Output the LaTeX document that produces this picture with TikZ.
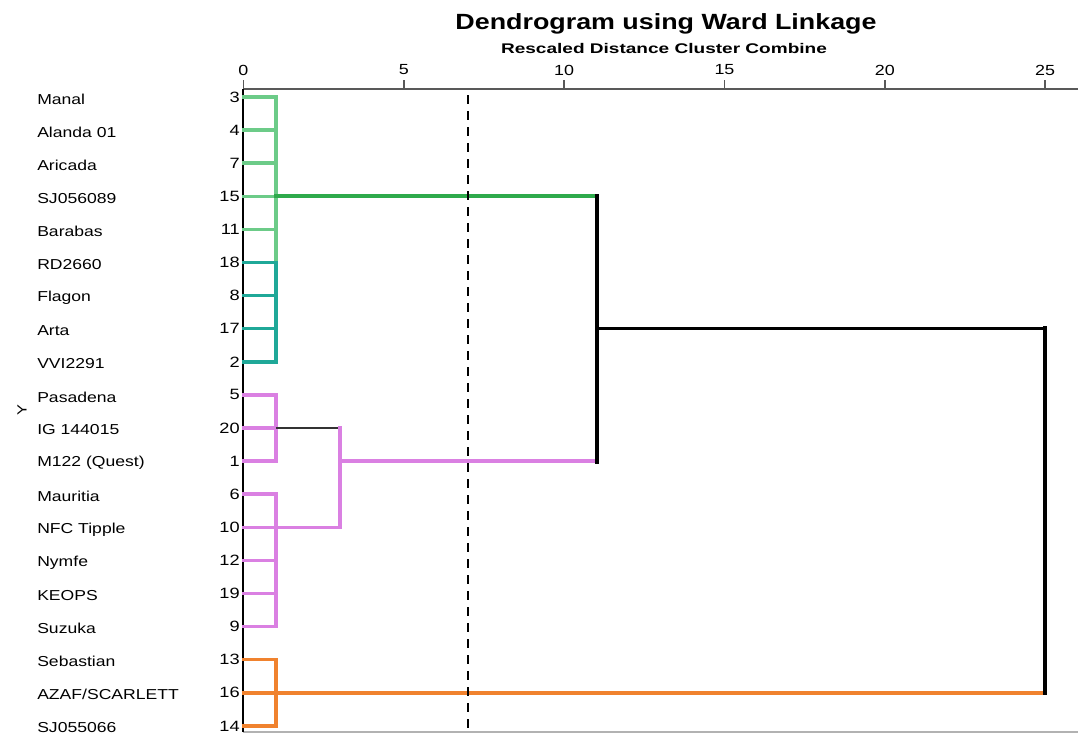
\documentclass[tikz,border=0pt]{standalone}
\usepackage{fontspec}
\setmainfont{Liberation Sans}
\newfontfamily\leaffont[FakeStretch=1.22]{Liberation Sans}
\newfontfamily\subfont[FakeStretch=1.36]{Liberation Sans}
\usetikzlibrary{calc}
\definecolor{lgreen}{HTML}{6CCB88}
\definecolor{tealc}{HTML}{1FA898}
\definecolor{dgreen}{HTML}{2EAA4C}
\definecolor{lilac}{HTML}{DA80E2}
\definecolor{orng}{HTML}{F0822E}

\begin{document}
\begin{tikzpicture}[x=0.75pt,y=-0.75pt,
                    leaf node/.style={anchor=west,inner sep=0,font=\leaffont\fontsize{10.8}{12}\selectfont},
                    idx node/.style={anchor=east,inner sep=0,font=\leaffont\fontsize{11.2}{12}\selectfont},
                    tick node/.style={inner sep=0,font=\leaffont\fontsize{11}{12}\selectfont},
                    branch/.style={line width=2.6pt,line cap=rect},
                    merge/.style={line width=3pt,line cap=rect},
                    top link/.style={line width=3.6pt,line cap=rect}]
  \useasboundingbox (0,0) rectangle (1078,733);

  \node[font=\leaffont\fontsize{16.5}{18}\selectfont\bfseries] (title) at (666,24) {Dendrogram using Ward Linkage};
  \node[font=\subfont\fontsize{10.5}{12}\selectfont\bfseries] (subtitle) at (664,48) {Rescaled Distance Cluster Combine};
  \node[rotate=90,font=\leaffont\fontsize{10}{12}\selectfont] (ylab) at (22,410) {Y};

  % axis frame
  \coordinate (o) at (243.4,89);
  \coordinate (e) at (1078,89);
  \coordinate (bl) at (243.4,732);
  \coordinate (br) at (1078,732);
  \draw[line width=1.5pt,gray!70!black] (o) -- (e);
  \draw[line width=1pt,gray!60] (bl) -- (br);
  \draw[line width=1.6pt] (o) -- (bl);
  \foreach \t in {0,5,...,25} {
    \coordinate (t\t) at ($(o)+(32.07*\t,0)$);
    \draw[line width=1.2pt,gray!70!black] (t\t) -- ++(0,-9);
    \node[tick node] (tl\t) at ($(t\t)+(0,-19)$) {\t};
  }

  % leaves
  \foreach \lbl/\num [count=\i] in {Manal/3,Alanda 01/4,Aricada/7,SJ056089/15,Barabas/11,RD2660/18,
      Flagon/8,Arta/17,VVI2291/2,Pasadena/5,IG 144015/20,M122 (Quest)/1,Mauritia/6,NFC Tipple/10,
      Nymfe/12,KEOPS/19,Suzuka/9,Sebastian/13,{AZAF/SCARLETT}/16,SJ055066/14} {
    \coordinate (r\i) at (244,{97+(\i-1)*33.1});
    \node[leaf node] (n\i) at (37,{99+(\i-1)*33.1}) {\lbl};
    \node[idx node] (k\i) at (240,{97+(\i-1)*33.1}) {\num};
  }

  \coordinate (c1) at (276,89);
  \coordinate (c3) at (340,89);
  \coordinate (c11) at (597,89);
  \coordinate (c25) at (1045,89);

  % green cluster
  \foreach \i in {1,...,5} \draw[branch,lgreen] (r\i) -- (r\i -| c1);
  \foreach \i in {6,...,9} \draw[branch,tealc] (r\i) -- (r\i -| c1);
  \draw[branch,lgreen] (r1 -| c1) -- (r6 -| c1);
  \draw[branch,tealc] (r6 -| c1) -- (r9 -| c1);
  \draw[merge,dgreen] (r4 -| c1) -- (r4 -| c11);

  % lilac cluster
  \foreach \i in {10,...,17} \draw[branch,lilac] (r\i) -- (r\i -| c1);
  \draw[branch,lilac] (r10 -| c1) -- (r12 -| c1);
  \draw[branch,lilac] (r13 -| c1) -- (r17 -| c1);
  \draw[line width=0.8pt,black!80] (r11 -| c1) -- (r11 -| c3);
  \draw[branch,lilac] (r14 -| c1) -- (r14 -| c3);
  \draw[branch,lilac] (r11 -| c3) -- (r14 -| c3);
  \draw[merge,lilac] (r12 -| c3) -- (r12 -| c11);

  % orange cluster
  \foreach \i in {18,19,20} \draw[branch,orng] (r\i) -- (r\i -| c1);
  \draw[branch,orng] (r18 -| c1) -- (r20 -| c1);
  \draw[merge,orng] (r19 -| c1) -- (r19 -| c25);

  % top joins
  \draw[top link] (r4 -| c11) -- (r12 -| c11);
  \draw[line width=2.2pt] (r8 -| c11) -- (r8 -| c25);
  \draw[top link] (r8 -| c25) -- (r19 -| c25);

  % cut
  \draw[line width=1.4pt,dashed,dash pattern=on 7pt off 5pt] (468,95) -- (468,733);
\end{tikzpicture}
\end{document}
